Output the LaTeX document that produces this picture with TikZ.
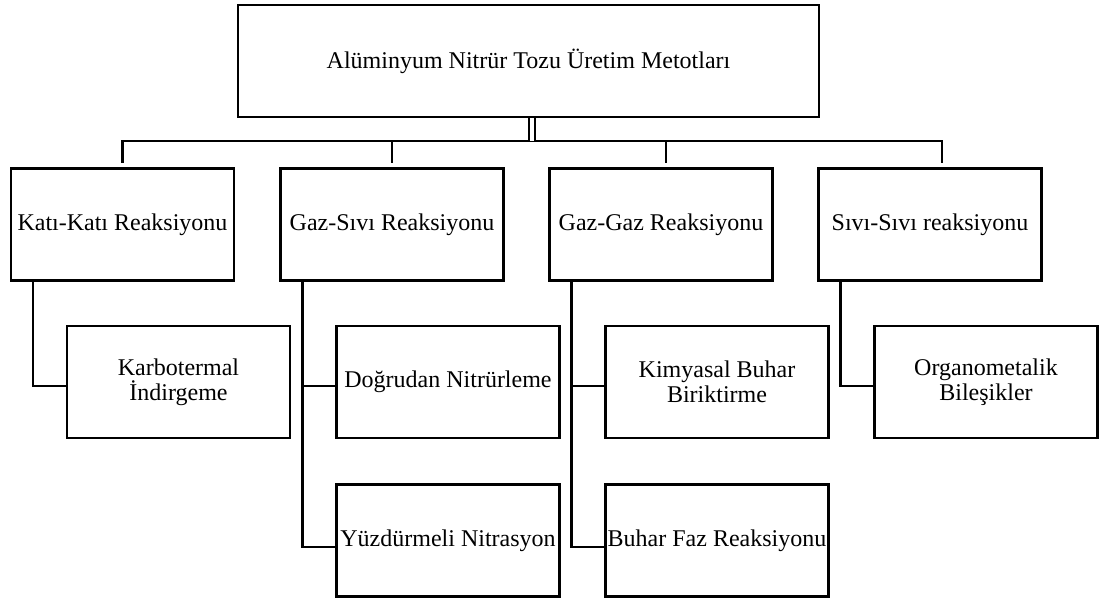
\documentclass[tikz,border=0pt]{standalone}
\usepackage{fontspec}
\setmainfont{Liberation Serif}
\usepackage{tikz}

\begin{document}
\begin{tikzpicture}[x=0.5pt, y=-0.5pt,
  box/.style={draw, line width=1.1pt, inner sep=0pt, align=center,
    font=\fontsize{12}{12.5}\selectfont},
  topbox/.style={box, minimum width=290.5pt, minimum height=56pt},
  groupbox/.style={box, minimum width=111.5pt, minimum height=56pt},
  methodbox/.style={box, minimum width=111.5pt, minimum height=56pt},
  link/.style={line width=1.1pt}]
\useasboundingbox (0,0) rectangle (1100,598);
%top
\node[topbox] (top) at (528.5, 61) {Alüminyum Nitrür Tozu Üretim Metotları};
%level one
\node[groupbox] (kati)     at (122.5, 224.5) {Katı-Katı Reaksiyonu};
\node[groupbox] (gazsivi)  at (392,   224.5) {Gaz-Sıvı Reaksiyonu};
\node[groupbox] (gazgaz)   at (661,   224.5) {Gaz-Gaz Reaksiyonu};
\node[groupbox] (sivisivi) at (930,   224.5) {Sıvı-Sıvı reaksiyonu};
%level two
\node[methodbox] (karbo)      at (178.5, 382)   {Karbotermal\\İndirgeme};
\node[methodbox] (dogrudan)   at (448,   382)   {Doğrudan Nitrürleme};
\node[methodbox] (kimyasal)   at (717,   382)   {Kimyasal Buhar\\Biriktirme};
\node[methodbox] (organo)     at (986,   382)   {Organometalik\\Bileşikler};
\node[methodbox] (yuzdurmeli) at (448,   540.5) {Yüzdürmeli Nitrasyon};
\node[methodbox] (buhar)      at (717,   540.5) {Buhar Faz Reaksiyonu};
%bus with outer drops
\coordinate (busR)  at (942, 141);
\coordinate (trunk) at (531.7, 141);
\draw[link] ([yshift=2.3pt]kati.north) |- (busR) -- ([xshift=6pt, yshift=2.3pt]sivisivi.north);
\draw[line width=1pt, double, double distance=2pt] (top.south -| trunk) -- (trunk);
%inner drops
\draw[link] (gazsivi.north |- busR) -- ([yshift=2.3pt]gazsivi.north);
\draw[link] ([xshift=2.5pt]gazgaz.north |- busR) -- ([xshift=2.5pt, yshift=2.3pt]gazgaz.north);
%elbows
\draw[link] ([xshift=11.5pt]kati.south west) |- ([yshift=-2pt]karbo.west);
\draw[link] ([xshift=11.5pt]gazsivi.south west) |- ([yshift=-3.2pt]yuzdurmeli.west);
\draw[link] ([yshift=-2pt]dogrudan.west) -| ([xshift=11.5pt]gazsivi.south west);
\draw[link] ([xshift=11.5pt]gazgaz.south west) |- ([yshift=-3.2pt]buhar.west);
\draw[link] ([yshift=-2pt]kimyasal.west) -| ([xshift=11.5pt]gazgaz.south west);
\draw[link] ([xshift=11.5pt]sivisivi.south west) |- ([yshift=-2pt]organo.west);
\end{tikzpicture}
\end{document}
